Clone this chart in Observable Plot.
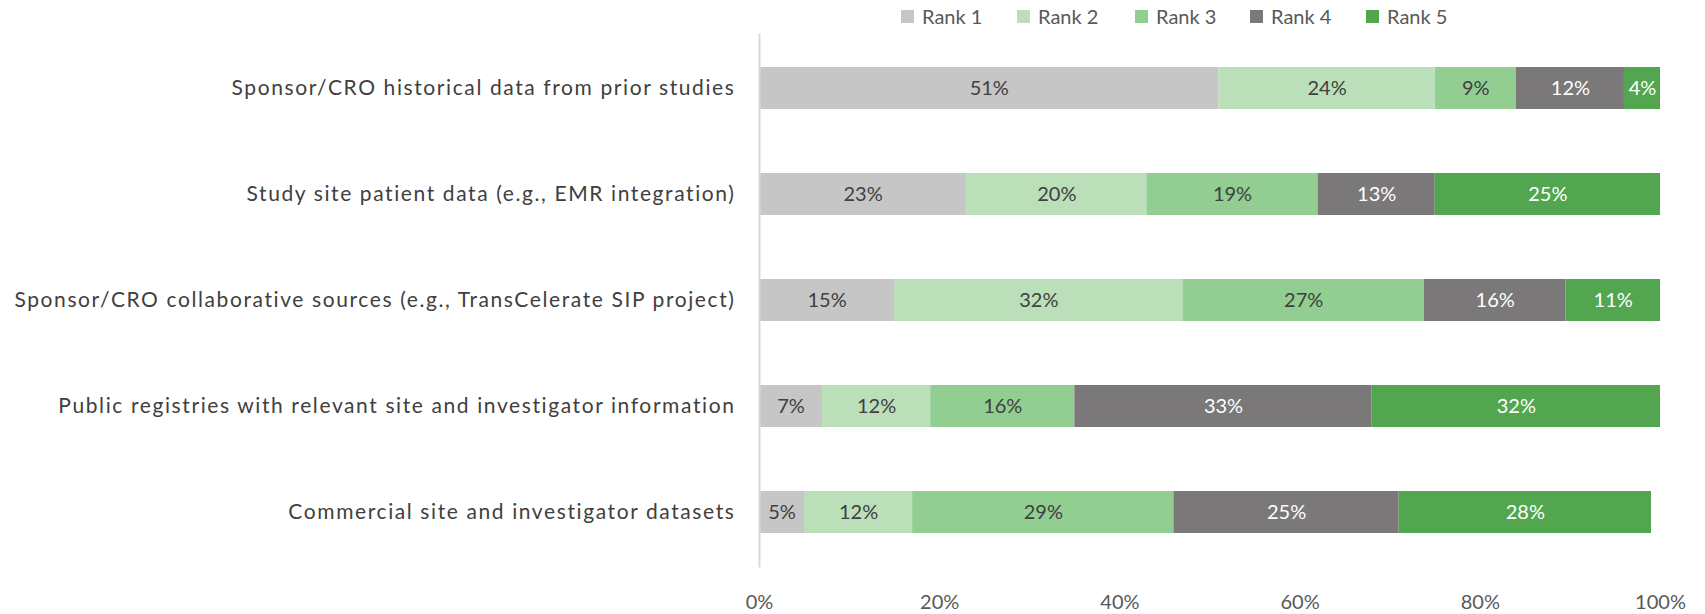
<!DOCTYPE html>
<html>
<head>
<meta charset="utf-8">
<script src="https://cdn.jsdelivr.net/npm/d3@7"></script>
<script src="https://cdn.jsdelivr.net/npm/@observablehq/plot@0.6"></script>
<style>
  body { margin: 0; background: #fff; font-family: Lato, sans-serif; }
  #wrap { width: 1705px; }
  #legend { height: 30px; position: relative; }
  .item { position: absolute; top: 4px; display: flex; align-items: center; font-size: 20px; color: #595959; }
  .sw { width: 13px; height: 13px; margin-right: 8px; }
</style>
</head>
<body>
<div id="wrap">
  <div id="legend"></div>
  <div id="chart"></div>
</div>
<script>
const categories = [
  "Sponsor/CRO historical data from prior studies",
  "Study site patient data (e.g., EMR integration)",
  "Sponsor/CRO collaborative sources (e.g., TransCelerate SIP project)",
  "Public registries with relevant site and investigator information",
  "Commercial site and investigator datasets"
];
const ranks = ["Rank 1", "Rank 2", "Rank 3", "Rank 4", "Rank 5"];
const rank1 = [51, 23, 15, 7, 5];
const rank2 = [24, 20, 32, 12, 12];
const rank3 = [9, 19, 26.8, 16, 29];
const rank4 = [12, 13, 15.7, 33, 25];
const rank5 = [4, 25, 10.5, 32, 28];
const colors = ["#c6c6c6", "#bbdfb9", "#92cd92", "#7a7878", "#52a64f"];
const labelColors = ["#404040", "#404040", "#404040", "#ffffff", "#ffffff"];
const xTicks = [0, 20, 40, 60, 80, 100];

const series = [rank1, rank2, rank3, rank4, rank5];
const data = [];
categories.forEach((c, i) => {
  ranks.forEach((r, j) => {
    data.push({category: c, rank: r, value: series[j][i], ri: j});
  });
});

// legend
const legend = document.getElementById("legend");
const legendX = [901, 1017, 1135, 1250, 1366];
ranks.forEach((r, j) => {
  const it = document.createElement("div");
  it.className = "item";
  it.style.left = legendX[j] + "px";
  it.innerHTML = `<div class="sw" style="background:${colors[j]}"></div><span>${r}</span>`;
  legend.appendChild(it);
});

const chart = Plot.plot({
  width: 1705,
  height: 584,
  marginLeft: 759,
  marginRight: 45,
  marginTop: 3.5,
  marginBottom: 46.5,
  style: { fontFamily: "Lato, sans-serif", fontSize: "20px", color: "#404040", background: "#fff" },
  x: { domain: [0, 100], ticks: xTicks, tickFormat: d => d + "%", tickSize: 0, tickPadding: 27, label: null },
  y: { domain: categories, paddingInner: 0.6, paddingOuter: 0.3, label: null, tickSize: 0, tickPadding: 24 },
  color: { domain: ranks, range: colors },
  marks: [
    Plot.barX(data, Plot.stackX({x: "value", y: "category", fill: "rank", order: ranks})),
    Plot.text(data, Plot.stackX({
      x: "value", y: "category", z: "rank", order: ranks,
      text: d => Math.round(d.value) + "%",
      fill: d => labelColors[d.ri],
      fontSize: 20
    })),
    Plot.ruleX([0], {stroke: "#d9d9d9", strokeWidth: 2})
  ]
});
chart.querySelectorAll('g[aria-label="x-axis tick label"]').forEach(g => g.setAttribute("fill", "#595959"));
chart.querySelectorAll('g[aria-label="y-axis tick label"]').forEach(g => { g.setAttribute("fill", "#404040"); g.setAttribute("font-size", "21px"); g.setAttribute("letter-spacing", "1.6px"); });
document.getElementById("chart").appendChild(chart);
</script>
</body>
</html>
